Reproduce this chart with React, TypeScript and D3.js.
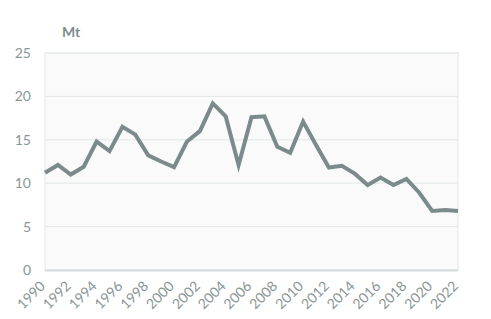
import React from "react";
import * as d3 from "d3";

const years: number[] = [1990,1991,1992,1993,1994,1995,1996,1997,1998,1999,2000,2001,2002,2003,2004,2005,2006,2007,2008,2009,2010,2011,2012,2013,2014,2015,2016,2017,2018,2019,2020,2021,2022];
const values: number[] = [11.2,12.1,11.0,11.9,14.8,13.7,16.5,15.6,13.2,12.5,11.85,14.8,16.0,19.2,17.7,12.1,17.6,17.7,14.2,13.5,17.1,14.4,11.8,12.0,11.1,9.8,10.65,9.8,10.5,8.9,6.8,6.9,6.8];
const yTicks: number[] = [0,5,10,15,20,25];
const xTickYears: number[] = [1990,1992,1994,1996,1998,2000,2002,2004,2006,2008,2010,2012,2014,2016,2018,2020,2022];
const unitLabel = "Mt";

export default function App() {
  const W = 491, H = 319;
  const m = { left: 45, right: 458, top: 53, bottom: 270 };
  const x = d3.scaleLinear().domain([1990, 2022]).range([m.left, m.right]);
  const y = d3.scaleLinear().domain([0, 25]).range([m.bottom, m.top]);
  const line = d3.line<number>().x((_, i) => x(years[i])).y((d) => y(d));
  const font = "Lato, 'Open Sans', sans-serif";
  const textColor = "#8a9696";
  return (
    <svg width={W} height={H} style={{ position: "absolute", left: 0, top: 0 }} fontFamily={font}>
      <rect x={0} y={0} width={W} height={H} fill="#ffffff" />
      <rect x={m.left} y={m.top} width={m.right - m.left} height={m.bottom - m.top} fill="#fafafa" stroke="#e3e7e7" strokeWidth={1} />
      {yTicks.map((t) => (
        <g key={t}>
          <line x1={m.left} x2={m.right} y1={y(t)} y2={y(t)} stroke="#e2e7e7" strokeWidth={1} />
          <text x={31} y={y(t) + 5} textAnchor="end" fontSize={14} fill={textColor}>{t}</text>
        </g>
      ))}
      <line x1={m.left} x2={m.right} y1={m.bottom + 0.5} y2={m.bottom + 0.5} stroke="#d5dbdc" strokeWidth={2} />
      {xTickYears.map((yr) => (
        <text key={yr} transform={`translate(${x(yr) + 1},${m.bottom + 17}) rotate(-45)`} textAnchor="end" fontSize={14} fill={textColor}>{yr}</text>
      ))}
      <text x={62} y={37} fontSize={14} fontWeight="bold" fill="#7f8c8d">{unitLabel}</text>
      <path d={line(values) ?? ""} fill="none" stroke="#7b8b8c" strokeWidth={4} strokeLinejoin="miter" />
    </svg>
  );
}
